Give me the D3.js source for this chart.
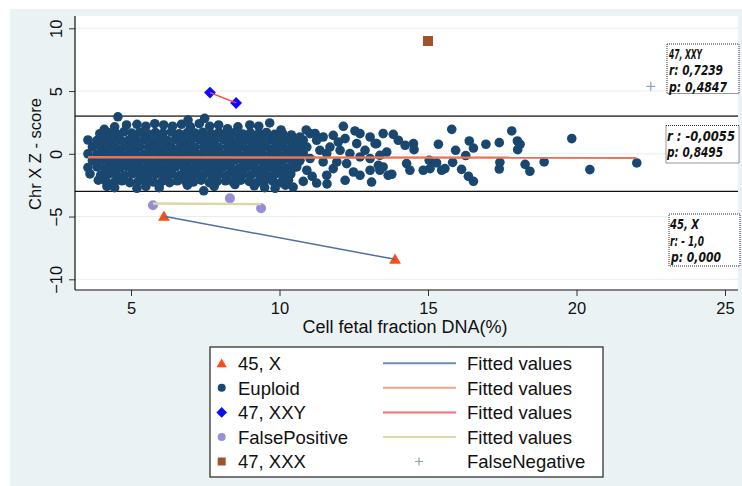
<!DOCTYPE html>
<html>
<head>
<meta charset="utf-8">
<script src="https://cdn.jsdelivr.net/npm/d3@7"></script>
<style>
  body { margin: 0; background: #fff; }
  svg { display: block; }
  text { font-family: "Liberation Sans", Arial, Helvetica, sans-serif; fill: #111; }
  .box text { font-family: "Liberation Sans Narrow", "DejaVu Sans Condensed", sans-serif; font-weight: bold; font-style: italic; font-size: 14px; }
</style>
</head>
<body>
<div id="chart"></div>
<script>
// ---- data ----
const xTicks = [5, 10, 15, 20, 25];
const yTicks = [-10, -5, 0, 5, 10];
const refLines = [3, -3];

const monoX = [[6.11, -4.98], [13.89, -8.41]];          // 45, X
const xxy = [[7.66, 4.88], [8.54, 4.05]];               // 47, XXY
const falsePos = [[5.74, -4.10], [8.33, -3.55], [9.38, -4.34]];
const xxx = [[15.0, 8.99]];                             // 47, XXX
const falseNeg = [[22.5, 5.38]];

// fitted values (end points of each regression line)
const fitMonoX = [[6.11, -4.98], [13.89, -8.41]];
const fitEuploid = [[3.55, -0.28], [22.03, -0.31]];
const fitXXY = [[7.66, 4.88], [8.54, 4.05]];
const fitFalsePos = [[5.74, -3.96], [9.38, -4.01]];

// euploid samples (dense cluster estimated, sparse tail read point by point)
const euploid = [
  [4.56,2.95],[6.92,2.69],[7.48,2.82],[9.67,2.46],
  [4.1,1.95],[4.45,2.15],[4.85,2.3],[5.2,2.35],[5.5,2.2],[5.8,2.4],[6.1,2.3],[6.4,2.2],[6.7,2.35],
  [7.0,2.15],[7.3,2.4],[7.65,2.2],[7.95,2.3],[8.25,2.0],[8.6,2.15],[9.0,2.3],[9.3,2.2],[10.05,1.9],
  [3.95,1.6],[4.22,1.7],[4.5,1.62],[4.76,1.75],[5.02,1.66],[5.3,1.72],[5.56,1.6],[5.82,1.7],[6.08,1.64],
  [6.36,1.75],[6.62,1.6],[6.9,1.7],[7.16,1.65],[7.42,1.72],[7.7,1.6],[7.96,1.68],[8.22,1.62],[8.5,1.7],
  [8.76,1.58],[9.02,1.66],[9.3,1.6],[9.56,1.7],[9.84,1.55],[10.1,1.62],[10.4,1.5],
  [3.55,1.1],[3.85,1.05],[4.1,1.12],[4.36,1.08],[4.62,1.15],[4.9,1.05],[5.16,1.1],[5.44,1.14],[5.7,1.04],
  [5.96,1.12],[6.22,1.08],[6.5,1.15],[6.76,1.05],[7.02,1.1],[7.3,1.12],[7.56,1.04],[7.82,1.1],[8.1,1.15],
  [8.36,1.06],[8.62,1.1],[8.9,1.12],[9.16,1.05],[9.42,1.1],[9.7,1.14],[9.96,1.06],[10.24,1.1],[10.52,1.0],
  [3.7,0.55],[3.98,0.5],[4.24,0.58],[4.5,0.52],[4.78,0.6],[5.04,0.5],[5.3,0.56],[5.58,0.54],[5.84,0.6],
  [6.1,0.5],[6.36,0.56],[6.64,0.52],[6.9,0.58],[7.16,0.5],[7.44,0.56],[7.7,0.6],[7.96,0.52],[8.24,0.55],
  [8.5,0.5],[8.76,0.58],[9.04,0.54],[9.3,0.5],[9.56,0.58],[9.84,0.52],[10.1,0.56],[10.38,0.5],[10.66,0.6],
  [3.55,0.0],[3.85,-0.05],[4.1,0.04],[4.36,-0.02],[4.64,0.05],[4.9,-0.04],[5.16,0.02],[5.44,-0.05],[5.7,0.04],
  [5.96,0.0],[6.24,-0.04],[6.5,0.05],[6.76,-0.02],[7.02,0.03],[7.3,-0.05],[7.56,0.02],[7.82,0.0],[8.1,-0.04],
  [8.36,0.05],[8.62,-0.02],[8.9,0.03],[9.16,-0.05],[9.42,0.02],[9.7,0.0],[9.96,-0.04],[10.24,0.04],[10.52,-0.02],[10.8,0.05],
  [3.7,-0.55],[3.98,-0.5],[4.24,-0.58],[4.5,-0.52],[4.76,-0.6],[5.04,-0.5],[5.3,-0.56],[5.56,-0.54],[5.84,-0.6],
  [6.1,-0.5],[6.36,-0.56],[6.64,-0.52],[6.9,-0.58],[7.16,-0.5],[7.44,-0.56],[7.7,-0.6],[7.96,-0.52],[8.24,-0.55],
  [8.5,-0.5],[8.76,-0.58],[9.04,-0.54],[9.3,-0.5],[9.56,-0.58],[9.84,-0.52],[10.1,-0.56],[10.38,-0.5],[10.66,-0.6],
  [3.55,-1.1],[3.86,-1.05],[4.12,-1.14],[4.38,-1.08],[4.64,-1.12],[4.9,-1.05],[5.18,-1.1],[5.44,-1.15],[5.7,-1.06],
  [5.98,-1.1],[6.24,-1.12],[6.5,-1.05],[6.78,-1.1],[7.04,-1.14],[7.3,-1.06],[7.56,-1.1],[7.84,-1.12],[8.1,-1.05],
  [8.36,-1.1],[8.64,-1.15],[8.9,-1.06],[9.16,-1.1],[9.44,-1.12],[9.7,-1.05],[9.96,-1.1],[10.24,-1.14],[10.5,-1.06],
  [3.62,-1.6],[3.98,-1.7],[4.24,-1.62],[4.5,-1.68],[4.78,-1.72],[5.04,-1.6],[5.3,-1.66],[5.58,-1.7],[5.84,-1.62],
  [6.1,-1.68],[6.38,-1.6],[6.64,-1.72],[6.9,-1.65],[7.18,-1.6],[7.44,-1.7],[7.7,-1.64],[7.98,-1.6],[8.24,-1.7],
  [8.5,-1.66],[8.78,-1.62],[9.04,-1.7],[9.3,-1.6],[9.58,-1.68],[9.84,-1.64],[10.1,-1.7],[10.38,-1.6],
  [3.9,-2.1],[4.16,-2.2],[4.44,-2.25],[4.7,-2.15],[4.96,-2.3],[5.24,-2.2],[5.5,-2.1],[5.76,-2.25],[6.04,-2.2],
  [6.3,-2.3],[6.56,-2.15],[6.84,-2.2],[7.1,-2.25],[7.36,-2.1],[7.64,-2.3],[7.9,-2.2],[8.18,-2.15],[8.44,-2.25],
  [8.7,-2.1],[8.98,-2.2],[9.24,-2.3],[9.5,-2.15],[9.78,-2.2],[10.04,-2.3],[10.3,-2.1],
  [4.19,-2.6],[4.45,-2.7],[5.2,-2.75],[5.5,-2.6],[5.95,-2.7],[6.9,-2.5],[7.45,-2.95],[7.8,-2.6],
  [8.5,-2.45],[9.15,-2.55],[9.5,-2.7],[9.85,-2.75],[10.2,-2.5],[10.46,-2.65],
  [4.3,1.35],[5.1,1.38],[5.9,1.4],[6.7,1.36],[7.5,1.4],[8.3,1.38],[9.1,1.4],[9.9,1.32],
  [4.4,-1.38],[5.2,-1.4],[6.0,-1.36],[6.8,-1.4],[7.6,-1.38],[8.4,-1.4],[9.2,-1.36],[10.0,-1.4],
  [4.6,-1.92],[5.4,-1.95],[6.2,-1.9],[7.0,-1.94],[7.8,-1.92],[8.6,-1.9],[9.4,-1.95],[10.2,-1.9],
  [10.69,1.34],[11.03,1.61],[11.2,1.61],[11.47,1.34],[11.81,1.47],[10.8,1.08],[11.25,1.08],[11.98,0.94],
  [12.6,0.81],[10.58,0.28],[10.92,0.54],[11.36,0.28],[11.7,0.54],[12.04,0.28],[12.37,0.02],[11.59,0.02],
  [12.88,0.28],[12.71,-0.25],[13.05,-0.38],[13.38,-0.12],[10.69,-0.52],[11.03,-0.38],[11.47,-0.65],
  [11.93,-0.65],[12.26,-0.78],[10.58,-1.05],[10.92,-1.31],[11.59,-1.71],[11.81,-1.18],[12.49,-1.45],
  [13.38,-1.31],[10.8,-2.2],[11.25,-2.33],[11.6,-2.4],[12.21,-2.11],[10.9,1.9],[11.1,-1.8],
  [12.15,2.19],[12.54,1.82],[12.71,1.61],[13.05,1.34],[12.21,1.21],[13.49,1.61],[13.83,1.55],[14.0,1.08],
  [14.23,0.68],[14.51,0.81],[14.53,0.33],[13.61,0.14],[13.27,0.81],[13.22,0.81],[15.35,0.76],[15.8,1.95],
  [15.93,0.28],[16.39,1.02],[16.53,0.46],[16.27,-0.14],[16.95,0.76],[17.4,0.89],[17.82,1.82],[18.01,1.02],
  [18.1,0.76],[18.02,0.33],[19.84,1.21],[17.42,-0.68],[17.4,-1.21],[18.27,-0.84],[18.43,-1.39],[18.91,-0.65],
  [20.45,-1.26],[22.03,-0.73],[15.83,-0.68],[16.13,-1.24],[15.46,-1.31],[15.57,-1.18],[14.84,-1.31],
  [15.07,-1.18],[15.04,-0.52],[15.29,-0.73],[14.28,-0.78],[14.39,-1.31],[16.36,-1.79],[16.53,-2.19],
  [13.78,-1.63],[13.66,-1.71],[13.1,-2.25],[12.71,-1.71],[13.49,-1.05],[13.33,-0.92],[13.05,-1.31]
];

const legendLeft = [
  { label: "45, X", kind: "triangle" },
  { label: "Euploid", kind: "euploid" },
  { label: "47, XXY", kind: "diamond" },
  { label: "FalsePositive", kind: "fp" },
  { label: "47, XXX", kind: "square" }
];
const legendRight = [
  { label: "Fitted values", kind: "line", color: "#6e8bb4" },
  { label: "Fitted values", kind: "line", color: "#f4a285" },
  { label: "Fitted values", kind: "line", color: "#f26f6f" },
  { label: "Fitted values", kind: "line", color: "#ddd7ae" },
  { label: "FalseNegative", kind: "plus" }
];

const boxes = [
  { x: 667, y: 44, w: 72, h: 49.5, lines: [["47, XXY", 669, 58.5, 33], ["r: 0,7239", 669, 75, 54], ["p: 0,4847", 669, 91.5, 58]] },
  { x: 666, y: 125.5, w: 73, h: 37.5, lines: [["r : -0,0055", 667, 140.5, 68], ["p: 0,8495", 667, 157, 56]] },
  { x: 669, y: 214, w: 71, h: 52, lines: [["45, X", 670, 229, 29], ["r: - 1,0", 670, 245.5, 34], ["p: 0,000", 671, 262, 50]] }
];

// ---- drawing ----
const W = 742, H = 486;
const plot = { left: 75, right: 738, top: 16, bottom: 290 };

const svg = d3.select("#chart").append("svg")
  .attr("width", W).attr("height", H);

svg.append("rect").attr("x", 10).attr("y", 9).attr("width", W - 10).attr("height", H - 9)
  .attr("fill", "#eaf2f3");
svg.append("rect").attr("x", plot.left).attr("y", plot.top)
  .attr("width", plot.right - plot.left).attr("height", plot.bottom - plot.top)
  .attr("fill", "#fff");

const x = d3.scaleLinear().domain([5, 25]).range([131, 725]);
const y = d3.scaleLinear().domain([-10, 10]).range([279.3, 28.3]);

// grid
svg.append("g").selectAll("line").data(yTicks).enter().append("line")
  .attr("x1", plot.left).attr("x2", plot.right)
  .attr("y1", d => y(d)).attr("y2", d => y(d))
  .attr("stroke", "#e4eef1").attr("stroke-width", 1);

// reference lines at +/-3
svg.append("g").selectAll("line").data(refLines).enter().append("line")
  .attr("x1", plot.left).attr("x2", plot.right)
  .attr("y1", d => y(d)).attr("y2", d => y(d))
  .attr("stroke", d => d > 0 ? "#555" : "#111").attr("stroke-width", d => d > 0 ? 1.6 : 1.2);

// axes
const xAxis = svg.append("g").attr("transform", "translate(0," + plot.bottom + ")")
  .call(d3.axisBottom(x).tickValues(xTicks).tickSize(6).tickPadding(6));
xAxis.select(".domain").remove();
xAxis.selectAll("text").style("font-size", "16.5px").attr("fill", "#111");
xAxis.selectAll("line").attr("stroke", "#333");

const yAxis = svg.append("g").attr("transform", "translate(" + plot.left + ",0)")
  .call(d3.axisLeft(y).tickValues(yTicks).tickSize(6));
yAxis.select(".domain").remove();
yAxis.selectAll("line").attr("stroke", "#333");
yAxis.selectAll("text")
  .attr("x", null).attr("dy", null)
  .attr("text-anchor", "middle")
  .attr("transform", "translate(-13,0) rotate(-90)")
  .style("font-size", "16.5px").attr("fill", "#111");

svg.append("line").attr("x1", plot.left).attr("x2", plot.left)
  .attr("y1", plot.top).attr("y2", plot.bottom).attr("stroke", "#111").attr("stroke-width", 1.2);
svg.append("line").attr("x1", plot.left).attr("x2", plot.right)
  .attr("y1", plot.bottom).attr("y2", plot.bottom).attr("stroke", "#111").attr("stroke-width", 1.2);

svg.append("text").attr("x", 405).attr("y", 333).attr("text-anchor", "middle")
  .style("font-size", "18px").text("Cell fetal fraction DNA(%)");
svg.append("text").attr("transform", "translate(41,154) rotate(-90)").attr("text-anchor", "middle")
  .style("font-size", "16.5px").text("Chr X Z - score");

const line = d3.line().x(d => x(d[0])).y(d => y(d[1]));
const sym = (type, size) => d3.symbol().type(type).size(size)();

// 45, X
svg.append("g").selectAll("path").data(monoX).enter().append("path")
  .attr("d", sym(d3.symbolTriangle, 60))
  .attr("transform", d => "translate(" + x(d[0]) + "," + (y(d[1]) + 1) + ")")
  .attr("fill", "#ff4a14");
svg.append("path").datum(fitMonoX).attr("d", line)
  .attr("fill", "none").attr("stroke", "#4f6f9c").attr("stroke-width", 1.5);

// Euploid
svg.append("g").selectAll("circle").data(euploid).enter().append("circle")
  .attr("cx", d => x(d[0])).attr("cy", d => y(d[1])).attr("r", 4.8)
  .attr("fill", "#1a476f");
svg.append("path").datum(fitEuploid).attr("d", line)
  .attr("fill", "none").attr("stroke", "#ec7450").attr("stroke-width", 2.4);

// 47, XXY
svg.append("g").selectAll("path").data(xxy).enter().append("path")
  .attr("d", sym(d3.symbolSquare, 70))
  .attr("transform", d => "translate(" + x(d[0]) + "," + y(d[1]) + ") rotate(45)")
  .attr("fill", "#0a0aff");
svg.append("path").datum(fitXXY).attr("d", line)
  .attr("fill", "none").attr("stroke", "#ff3b3b").attr("stroke-width", 1.3);

// FalsePositive
svg.append("g").selectAll("circle").data(falsePos).enter().append("circle")
  .attr("cx", d => x(d[0])).attr("cy", d => y(d[1])).attr("r", 5)
  .attr("fill", "#9590d6");
svg.append("path").datum(fitFalsePos).attr("d", line)
  .attr("fill", "none").attr("stroke", "#dcd5a8").attr("stroke-width", 2.4);

// 47, XXX
svg.append("g").selectAll("path").data(xxx).enter().append("path")
  .attr("d", sym(d3.symbolSquare, 100))
  .attr("transform", d => "translate(" + x(d[0]) + "," + y(d[1]) + ")")
  .attr("fill", "#a0522d");

// FalseNegative
svg.append("g").selectAll("path").data(falseNeg).enter().append("path")
  .attr("d", "M-4.5,0H4.5M0,-4.5V4.5")
  .attr("transform", d => "translate(" + x(d[0]) + "," + y(d[1]) + ")")
  .attr("stroke", "#8ea2c4").attr("stroke-width", 1.2).attr("fill", "none");

// annotation boxes
const box = svg.append("g").attr("class", "box").selectAll("g").data(boxes).enter().append("g");
box.append("rect")
  .attr("x", d => d.x).attr("y", d => d.y).attr("width", d => d.w).attr("height", d => d.h)
  .attr("fill", "#fff").attr("stroke", "#333").attr("stroke-width", 1).attr("stroke-dasharray", "1,1");
box.selectAll("text").data(d => d.lines).enter().append("text")
  .attr("x", d => d[1]).attr("y", d => d[2])
  .attr("textLength", d => d[3]).attr("lengthAdjust", "spacingAndGlyphs")
  .attr("fill", "#151515")
  .text(d => d[0]);

// legend
const lg = svg.append("g");
lg.append("rect").attr("x", 210).attr("y", 347).attr("width", 393).attr("height", 130)
  .attr("fill", "#fff").attr("stroke", "#333").attr("stroke-width", 1.3);
const rowY = i => 363.3 + i * 24.55;

legendLeft.forEach((d, i) => {
  const cy = rowY(i), cx = 221.7;
  if (d.kind === "triangle") {
    lg.append("path").attr("d", sym(d3.symbolTriangle, 45))
      .attr("transform", "translate(" + cx + "," + (cy + 1) + ")").attr("fill", "#ff4a14");
  } else if (d.kind === "euploid") {
    lg.append("circle").attr("cx", cx).attr("cy", cy).attr("r", 4).attr("fill", "#1a476f");
  } else if (d.kind === "diamond") {
    lg.append("path").attr("d", sym(d3.symbolSquare, 56))
      .attr("transform", "translate(" + cx + "," + cy + ") rotate(45)").attr("fill", "#0a0aff");
  } else if (d.kind === "fp") {
    lg.append("circle").attr("cx", cx).attr("cy", cy).attr("r", 4).attr("fill", "#9590d6");
  } else if (d.kind === "square") {
    lg.append("path").attr("d", sym(d3.symbolSquare, 64))
      .attr("transform", "translate(" + cx + "," + cy + ")").attr("fill", "#a0522d");
  }
  lg.append("text").attr("x", 238).attr("y", cy).attr("dy", "0.36em")
    .style("font-size", "18.5px").text(d.label);
});

legendRight.forEach((d, i) => {
  const cy = rowY(i);
  if (d.kind === "line") {
    lg.append("line").attr("x1", 383).attr("x2", 456).attr("y1", cy).attr("y2", cy)
      .attr("stroke", d.color).attr("stroke-width", 2);
  } else {
    lg.append("path").attr("d", "M-4,0H4M0,-4V4")
      .attr("transform", "translate(419," + cy + ")")
      .attr("stroke", "#8ea2c4").attr("stroke-width", 1.2).attr("fill", "none");
  }
  lg.append("text").attr("x", 467).attr("y", cy).attr("dy", "0.36em")
    .style("font-size", "18.5px").text(d.label);
});
</script>
</body>
</html>
